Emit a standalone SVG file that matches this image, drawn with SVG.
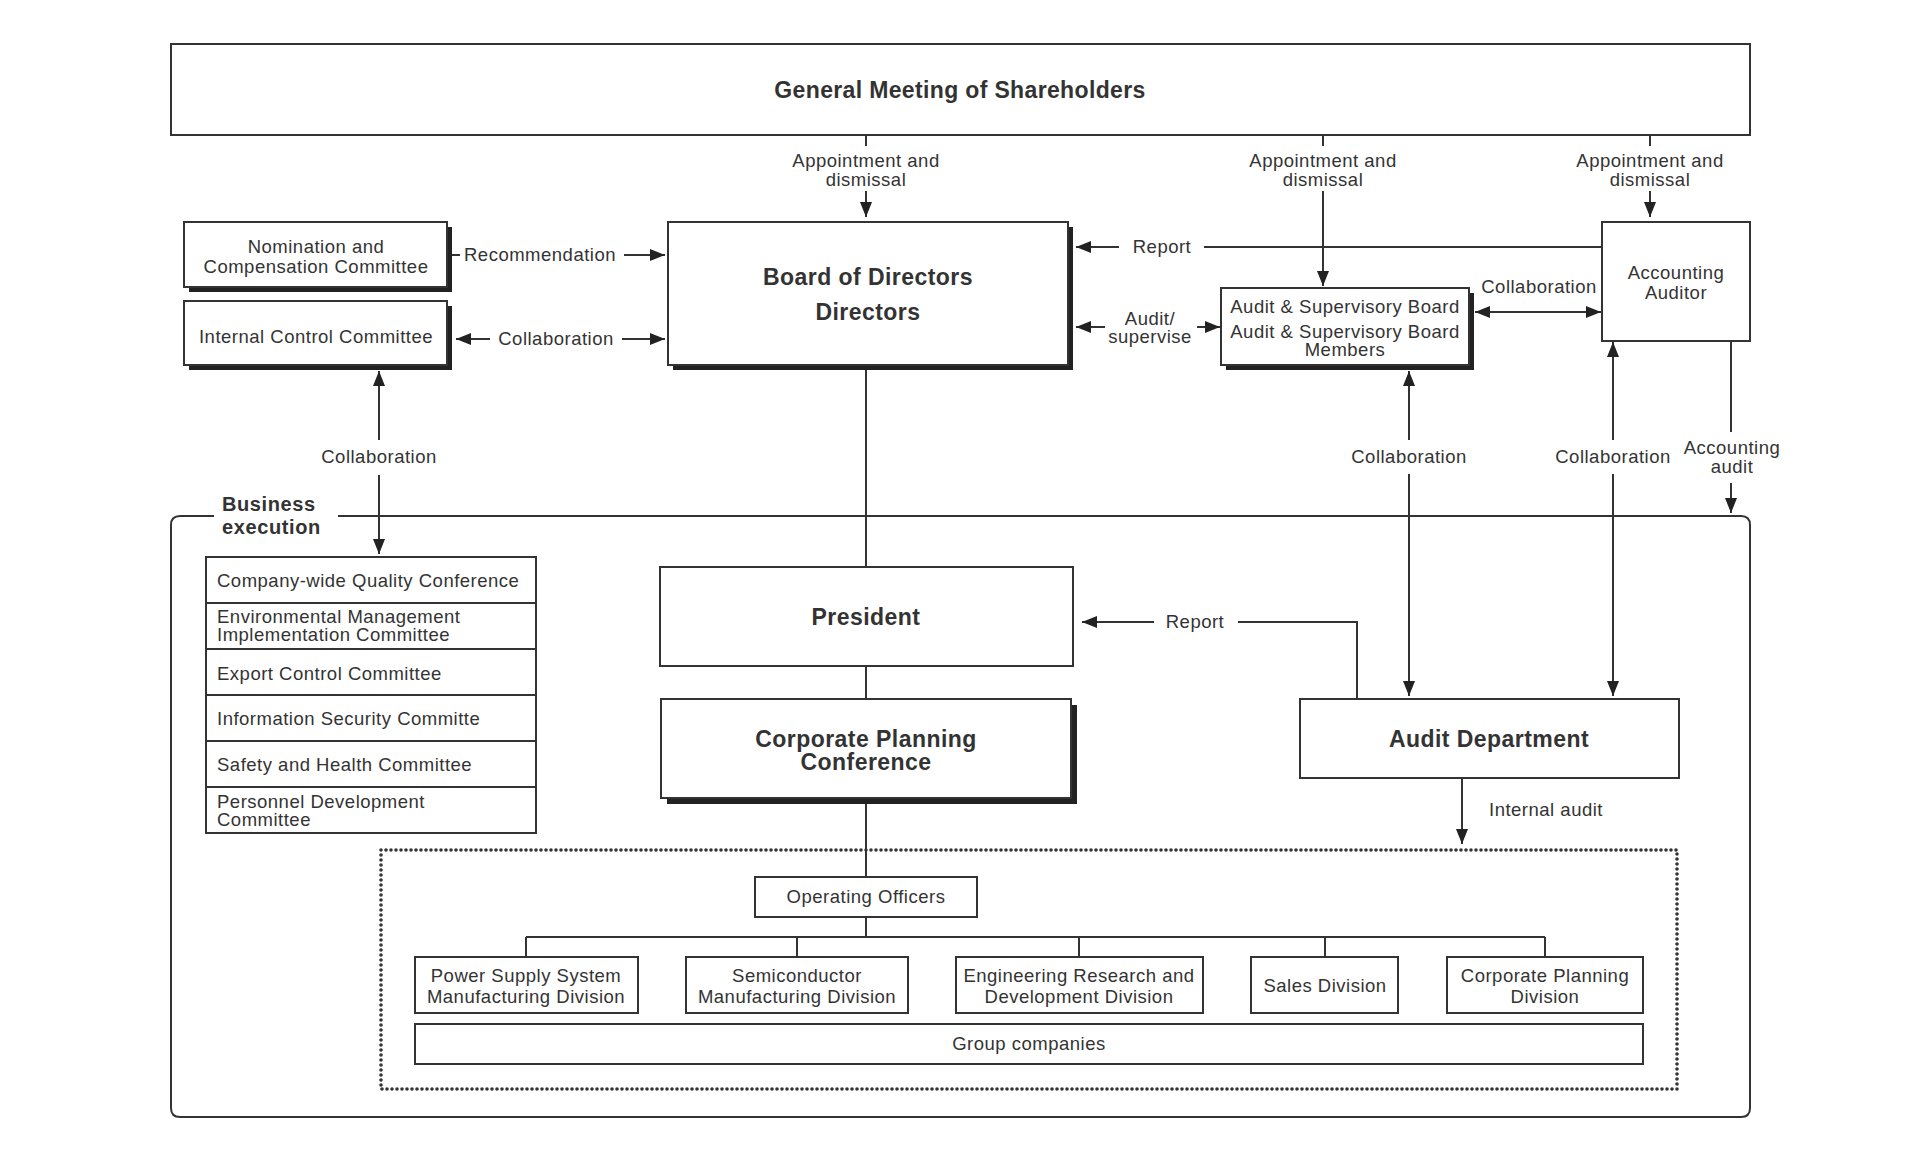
<svg xmlns="http://www.w3.org/2000/svg" width="1920" height="1160" viewBox="0 0 1920 1160">
<style>
  text { font-family: "Liberation Sans", Arial, sans-serif; fill: #333; font-size: 18.5px; letter-spacing: 0.5px; }
  .c { text-anchor: middle; }
  .b { font-weight: bold; font-size: 23px; letter-spacing: 0.45px; }
  .box { fill: #fff; stroke: #333; stroke-width: 2; }
  .sh { fill: #222; }
  .ln { fill: none; stroke: #333; stroke-width: 2; }
  .ar { fill: none; stroke: #333; stroke-width: 2; marker-end: url(#ah); }
  .ar2 { fill: none; stroke: #333; stroke-width: 2; marker-end: url(#ah); marker-start: url(#ah); }
  .dot { fill: none; stroke: #333; stroke-width: 3.6; stroke-dasharray: 0 5; stroke-linecap: round; }
</style>
<defs>
  <marker id="ah" viewBox="0 0 15 12" refX="15" refY="6" markerWidth="15" markerHeight="12" markerUnits="userSpaceOnUse" orient="auto-start-reverse">
    <path d="M0,0 L15,6 L0,12 z" fill="#222"/>
  </marker>
</defs>
<rect width="1920" height="1160" fill="#fff"/>

<!-- Business execution frame -->
<g id="business-execution">
  <path class="ln" d="M214,516 L180,516 Q171,516 171,525 L171,1108 Q171,1117 180,1117 L1741,1117 Q1750,1117 1750,1108 L1750,525 Q1750,516 1741,516 L338,516"/>
  <text x="222" y="511" class="b" style="font-size:20px;letter-spacing:0.6px">Business</text>
  <text x="222" y="534" class="b" style="font-size:20px;letter-spacing:0.6px">execution</text>
</g>
<g id="operating-area">
  <rect class="dot" x="381" y="850" width="1296" height="239"/>
</g>

<!-- Connectors -->
<g id="connectors">
  <line class="ln" x1="866" y1="135" x2="866" y2="146"/>
  <line class="ar" x1="866" y1="191" x2="866" y2="217"/>
  <line class="ln" x1="1323" y1="135" x2="1323" y2="146"/>
  <line class="ar" x1="1323" y1="191" x2="1323" y2="286"/>
  <line class="ln" x1="1650" y1="135" x2="1650" y2="146"/>
  <line class="ar" x1="1650" y1="191" x2="1650" y2="217"/>
  <line class="ln" x1="452" y1="255" x2="460" y2="255"/>
  <line class="ar" x1="624" y1="255" x2="665" y2="255"/>
  <line class="ar" x1="490" y1="339" x2="456" y2="339"/>
  <line class="ar" x1="622" y1="339" x2="665" y2="339"/>
  <line class="ln" x1="1602" y1="247" x2="1204" y2="247"/>
  <line class="ar" x1="1119" y1="247" x2="1076" y2="247"/>
  <line class="ar" x1="1105" y1="327" x2="1076" y2="327"/>
  <line class="ar" x1="1197" y1="327" x2="1220" y2="327"/>
  <line class="ar2" x1="1475" y1="312" x2="1601" y2="312"/>
  <line class="ln" x1="1731" y1="341" x2="1731" y2="432"/>
  <line class="ar" x1="1731" y1="483" x2="1731" y2="513"/>
  <line class="ar" x1="379" y1="440" x2="379" y2="371"/>
  <line class="ar" x1="379" y1="475" x2="379" y2="554"/>
  <line class="ar" x1="1409" y1="440" x2="1409" y2="371"/>
  <line class="ar" x1="1409" y1="474" x2="1409" y2="696"/>
  <line class="ar" x1="1613" y1="440" x2="1613" y2="342"/>
  <line class="ar" x1="1613" y1="474" x2="1613" y2="696"/>
  <line class="ln" x1="866" y1="365" x2="866" y2="567"/>
  <line class="ln" x1="866" y1="666" x2="866" y2="699"/>
  <line class="ln" x1="866" y1="798" x2="866" y2="877"/>
  <line class="ar" x1="1154" y1="622" x2="1082" y2="622"/>
  <polyline class="ln" points="1238,622 1357,622 1357,699"/>
  <line class="ar" x1="1462" y1="778" x2="1462" y2="844"/>
  <line class="ln" x1="866" y1="917" x2="866" y2="937"/>
  <line class="ln" x1="526" y1="937" x2="1545" y2="937"/>
  <line class="ln" x1="526" y1="937" x2="526" y2="957"/>
  <line class="ln" x1="797" y1="937" x2="797" y2="957"/>
  <line class="ln" x1="1079" y1="937" x2="1079" y2="957"/>
  <line class="ln" x1="1325" y1="937" x2="1325" y2="957"/>
  <line class="ln" x1="1545" y1="937" x2="1545" y2="957"/>
</g>

<!-- connector labels -->
<g id="labels">
  <text x="866" y="167" class="c">Appointment and</text>
  <text x="866" y="186" class="c">dismissal</text>
  <text x="1323" y="167" class="c">Appointment and</text>
  <text x="1323" y="186" class="c">dismissal</text>
  <text x="1650" y="167" class="c">Appointment and</text>
  <text x="1650" y="186" class="c">dismissal</text>
  <text x="540" y="261" class="c">Recommendation</text>
  <text x="556" y="345" class="c">Collaboration</text>
  <text x="1162" y="253" class="c">Report</text>
  <text x="1150" y="325" class="c">Audit/</text>
  <text x="1150" y="343" class="c">supervise</text>
  <text x="1539" y="293" class="c">Collaboration</text>
  <text x="1732" y="454" class="c">Accounting</text>
  <text x="1732" y="473" class="c">audit</text>
  <text x="379" y="463" class="c">Collaboration</text>
  <text x="1409" y="463" class="c">Collaboration</text>
  <text x="1613" y="463" class="c">Collaboration</text>
  <text x="1195" y="628" class="c">Report</text>
  <text x="1489" y="816">Internal audit</text>
</g>

<!-- Nodes -->
<g id="shareholders">
  <rect class="box" x="171" y="44" width="1579" height="91"/>
  <text x="960" y="98" class="c b" style="letter-spacing:0.35px">General Meeting of Shareholders</text>
</g>
<g id="nomination">
  <rect class="sh" x="189" y="227" width="263" height="65"/>
  <rect class="box" x="184" y="222" width="263" height="65"/>
  <text x="316" y="253" class="c">Nomination and</text>
  <text x="316" y="273" class="c">Compensation Committee</text>
</g>
<g id="internal-control">
  <rect class="sh" x="189" y="306" width="263" height="64"/>
  <rect class="box" x="184" y="301" width="263" height="64"/>
  <text x="316" y="343" class="c">Internal Control Committee</text>
</g>
<g id="board">
  <rect class="sh" x="673" y="227" width="400" height="143"/>
  <rect class="box" x="668" y="222" width="400" height="143"/>
  <text x="868" y="285" class="c b">Board of Directors</text>
  <text x="868" y="320" class="c b">Directors</text>
</g>
<g id="asb">
  <rect class="sh" x="1226" y="293" width="248" height="77"/>
  <rect class="box" x="1221" y="288" width="248" height="77"/>
  <text x="1345" y="313" class="c">Audit &amp; Supervisory Board</text>
  <text x="1345" y="338" class="c">Audit &amp; Supervisory Board</text>
  <text x="1345" y="356" class="c">Members</text>
</g>
<g id="accounting-auditor">
  <rect class="box" x="1602" y="222" width="148" height="119"/>
  <text x="1676" y="279" class="c">Accounting</text>
  <text x="1676" y="299" class="c">Auditor</text>
</g>
<g id="committees">
  <rect class="box" x="206" y="557" width="330" height="276"/>
  <line class="ln" x1="206" y1="603" x2="536" y2="603"/>
  <line class="ln" x1="206" y1="649" x2="536" y2="649"/>
  <line class="ln" x1="206" y1="695" x2="536" y2="695"/>
  <line class="ln" x1="206" y1="741" x2="536" y2="741"/>
  <line class="ln" x1="206" y1="787" x2="536" y2="787"/>
  <text x="217" y="587">Company-wide Quality Conference</text>
  <text x="217" y="623">Environmental Management</text>
  <text x="217" y="641">Implementation Committee</text>
  <text x="217" y="680">Export Control Committee</text>
  <text x="217" y="725">Information Security Committe</text>
  <text x="217" y="771">Safety and Health Committee</text>
  <text x="217" y="808">Personnel Development</text>
  <text x="217" y="826">Committee</text>
</g>
<g id="president">
  <rect class="box" x="660" y="567" width="413" height="99"/>
  <text x="866" y="625" class="c b">President</text>
</g>
<g id="cpc">
  <rect class="sh" x="667" y="705" width="410" height="99"/>
  <rect class="box" x="661" y="699" width="410" height="99"/>
  <text x="866" y="747" class="c b">Corporate Planning</text>
  <text x="866" y="770" class="c b">Conference</text>
</g>
<g id="audit-dept">
  <rect class="box" x="1300" y="699" width="379" height="79"/>
  <text x="1489" y="747" class="c b">Audit Department</text>
</g>
<g id="operating-officers">
  <rect class="box" x="755" y="877" width="222" height="40"/>
  <text x="866" y="903" class="c">Operating Officers</text>
</g>
<g id="power-supply">
  <rect class="box" x="415" y="957" width="223" height="56"/>
  <text x="526" y="982" class="c">Power Supply System</text>
  <text x="526" y="1003" class="c">Manufacturing Division</text>
</g>
<g id="semiconductor">
  <rect class="box" x="686" y="957" width="222" height="56"/>
  <text x="797" y="982" class="c">Semiconductor</text>
  <text x="797" y="1003" class="c">Manufacturing Division</text>
</g>
<g id="engineering">
  <rect class="box" x="956" y="957" width="247" height="56"/>
  <text x="1079" y="982" class="c">Engineering Research and</text>
  <text x="1079" y="1003" class="c">Development Division</text>
</g>
<g id="sales">
  <rect class="box" x="1251" y="957" width="147" height="56"/>
  <text x="1325" y="992" class="c">Sales Division</text>
</g>
<g id="corp-planning-div">
  <rect class="box" x="1447" y="957" width="196" height="56"/>
  <text x="1545" y="982" class="c">Corporate Planning</text>
  <text x="1545" y="1003" class="c">Division</text>
</g>
<g id="group-companies">
  <rect class="box" x="415" y="1024" width="1228" height="40"/>
  <text x="1029" y="1050" class="c">Group companies</text>
</g>
</svg>
